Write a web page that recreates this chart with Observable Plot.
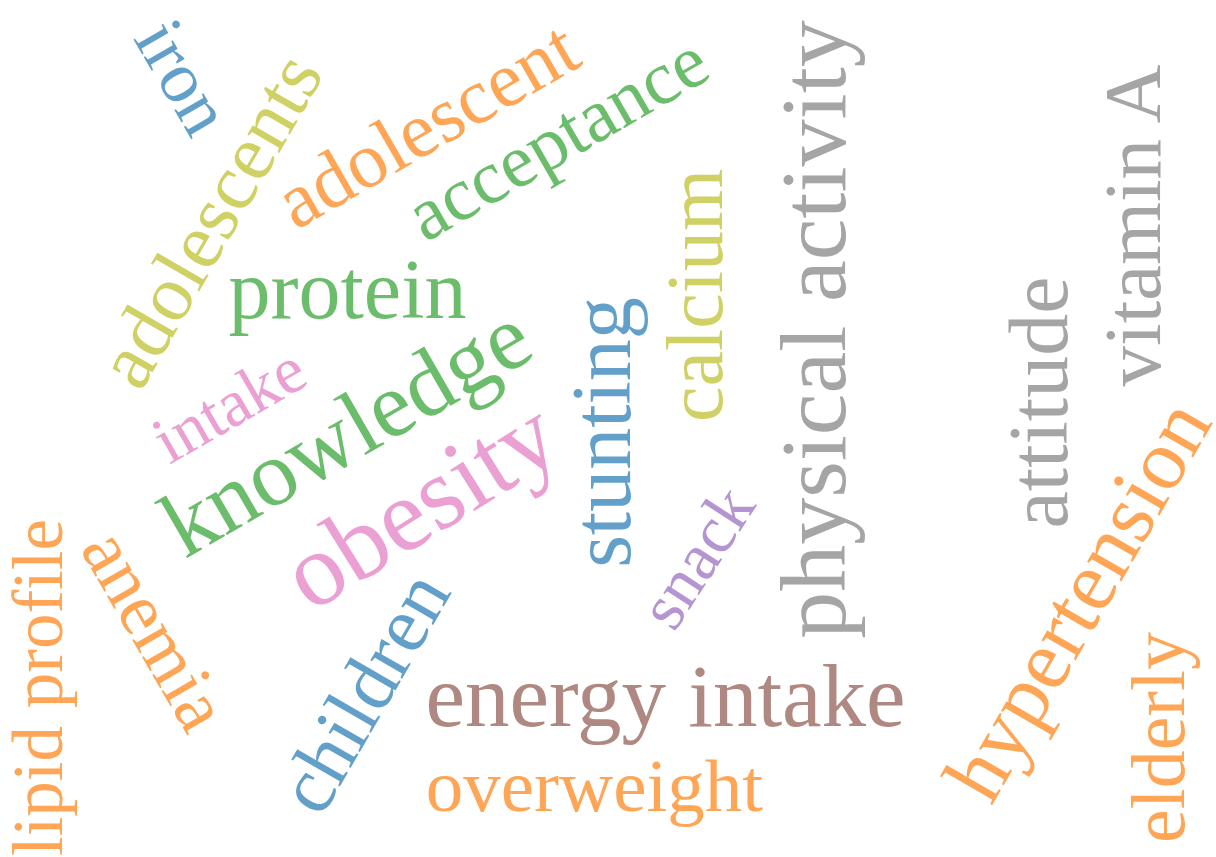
<!DOCTYPE html>
<html>
<head>
<meta charset="utf-8">
<script src="https://cdn.jsdelivr.net/npm/d3@7"></script>
<script src="https://cdn.jsdelivr.net/npm/@observablehq/plot@0.6"></script>
<style>
  html, body { margin: 0; padding: 0; background: #fff; }
  #chart svg { display: block; }
</style>
</head>
<body>
<div id="chart"></div>
<script>
// Word cloud terms
const words = ["iron", "adolescents", "adolescent", "acceptance", "protein", "intake", "knowledge", "obesity",
  "stunting", "calcium", "physical activity", "snack", "attitude", "vitamin A", "hypertension", "elderly",
  "lipid profile", "anemia", "children", "energy intake", "overweight"];
// Layout coordinates of each word (cloud space)
const cx = [182, 210, 427, 557, 347, 229, 346, 420, 603, 696, 814, 697, 1040, 1134, 1078, 1159, 39, 154, 364, 665, 594];
const cy = [77, 220, 125, 138, 291, 405, 431, 505, 432, 295, 329, 557, 402, 225, 600, 737, 687, 630, 692, 697, 786];
// Rotation (degrees)
const angles = [60, -60, -30, -30, 0, -30, -30, -32, -90, -90, -90, -57, -90, -90, -60, -90, -90, 60, -60, 0, 0];
// Weight (font size)
const weights = [73, 80, 79, 76, 84, 67, 93, 104, 84, 80, 94, 67, 84, 81, 86, 76, 71, 75, 80, 89, 75];
// Colour group (matplotlib tab10 names)
const groups = ["tab:blue", "tab:olive", "tab:orange", "tab:green", "tab:green", "tab:pink", "tab:green", "tab:pink",
  "tab:blue", "tab:olive", "tab:gray", "tab:purple", "tab:gray", "tab:gray", "tab:orange", "tab:orange",
  "tab:orange", "tab:orange", "tab:blue", "tab:brown", "tab:orange"];

const groupDomain = ["tab:blue", "tab:orange", "tab:green", "tab:red", "tab:purple", "tab:brown", "tab:pink", "tab:gray", "tab:olive", "tab:cyan"];

const data = words.map((w, i) => ({word: w, x: cx[i], y: cy[i], angle: angles[i], size: weights[i], group: groups[i]}));

const W = 1216, H = 857;
const chart = Plot.plot({
  width: W,
  height: H,
  margin: 0,
  style: {background: "#fff", fontFamily: "'Liberation Serif', 'Times New Roman', serif"},
  x: {domain: [0, W], range: [0, W], axis: null},
  y: {domain: [0, H], range: [0, H], axis: null},
  color: {type: "categorical", domain: groupDomain, range: d3.schemeCategory10},
  marks: [
    Plot.text(data, {
      x: "x", y: "y", text: "word",
      rotate: "angle",
      fontSize: "size",
      fill: "group",
      fillOpacity: 0.7,
      fontFamily: "Liberation Serif",
      textAnchor: "middle",
      lineAnchor: "middle"
    })
  ]
});
document.getElementById("chart").appendChild(chart);
</script>
</body>
</html>
